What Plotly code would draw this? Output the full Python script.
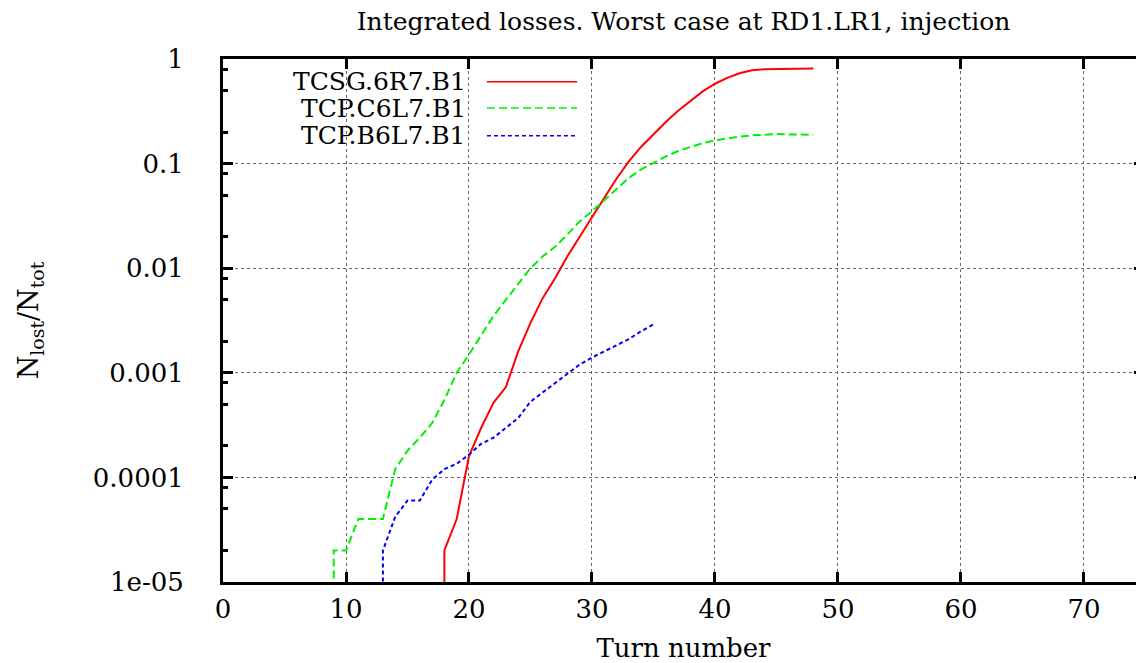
import plotly.graph_objects as go

# ---------------- data ----------------
series_names = ["TCSG.6R7.B1", "TCP.C6L7.B1", "TCP.B6L7.B1"]

# first entry of each series is below the axis floor (curve rises from the bottom)
red_turns = [18, 18, 19, 20, 21, 22, 23, 24, 25, 26, 27, 28, 29, 30, 31, 32, 33,
             34, 35, 36, 37, 38, 39, 40, 41, 42, 43, 44, 45, 46, 47, 48]
red_values = [1e-6, 2e-5, 4e-5, 1.6e-4, 3.0e-4, 5.2e-4, 7.3e-4, 1.6e-3, 3.0e-3,
              5.2e-3, 8.0e-3, 0.013, 0.020, 0.031, 0.047, 0.072, 0.105, 0.145,
              0.19, 0.25, 0.32, 0.40, 0.49, 0.58, 0.66, 0.73, 0.78, 0.80, 0.805,
              0.81, 0.81, 0.81]

green_turns = [9, 9, 10, 11, 12, 13, 14, 15, 16, 17, 18, 19, 20, 21, 22, 23, 24,
               25, 26, 27, 28, 29, 30, 31, 32, 33, 34, 35, 36, 37, 38, 39, 40,
               41, 42, 43, 44, 45, 46, 47, 48]
green_values = [1e-6, 2e-5, 2e-5, 4e-5, 4e-5, 4e-5, 1.2e-4, 1.8e-4, 2.4e-4,
                3.3e-4, 5.5e-4, 1.0e-3, 1.5e-3, 2.3e-3, 3.5e-3, 5.0e-3, 7.0e-3,
                0.0100, 0.0130, 0.0160, 0.0210, 0.0280, 0.0350, 0.045, 0.058,
                0.073, 0.088, 0.102, 0.117, 0.132, 0.145, 0.157, 0.167, 0.175,
                0.181, 0.186, 0.190, 0.192, 0.190, 0.189, 0.189]

blue_turns = [13, 13, 14, 15, 16, 17, 18, 19, 20, 21, 22, 23, 24, 25, 26, 27,
              28, 29, 30, 31, 32, 33, 34, 35]
blue_values = [1e-6, 2e-5, 4.2e-5, 6e-5, 6e-5, 9.5e-5, 1.2e-4, 1.35e-4, 1.65e-4,
               2.1e-4, 2.4e-4, 3.0e-4, 3.7e-4, 5.3e-4, 6.5e-4, 8.0e-4, 9.8e-4,
               1.2e-3, 1.4e-3, 1.6e-3, 1.85e-3, 2.1e-3, 2.5e-3, 2.9e-3]

x_tick_vals = [0, 10, 20, 30, 40, 50, 60, 70]
y_tick_vals = [1e-5, 1e-4, 1e-3, 1e-2, 1e-1, 1]
y_tick_text = ["1e-05", "0.0001", "0.001", "0.01", "0.1", "1"]
y_minor_vals = [m * 10.0 ** e for e in range(-5, 0) for m in (2, 5, 8)]

title_text = "Integrated losses. Worst case at RD1.LR1, injection"
x_title = "Turn number"
y_title = "N<sub>lost</sub>/N<sub>tot</sub>"

# ---------------- styles ----------------
FONT = "DejaVu Serif"
styles = [
    dict(color="#ff0000", width=2, dash="solid"),
    dict(color="#00f000", width=2, dash="8px,4px"),
    dict(color="#0000ff", width=2, dash="4px,3px"),
]

fig = go.Figure()
for name, xs, ys, st in zip(series_names,
                            [red_turns, green_turns, blue_turns],
                            [red_values, green_values, blue_values],
                            styles):
    fig.add_trace(go.Scatter(x=xs, y=ys, mode="lines", name=name,
                             line=st, showlegend=False))

# ---- gnuplot-like key: text right-aligned, sample to the right ----
key_text_right = 0.2655
key_sample = (0.2866, 0.3844)
key_rows = [0.9566, 0.9063, 0.8534]
shapes = [dict(type="rect", xref="paper", yref="paper", x0=0, x1=0.409,
               y0=0.824, y1=1, fillcolor="white", line=dict(width=0),
               layer="between")]
annotations = []
for name, st, yy in zip(series_names, styles, key_rows):
    annotations.append(dict(text=name, xref="paper", yref="paper",
                            x=key_text_right, y=yy, xanchor="right",
                            yanchor="middle", showarrow=False,
                            font=dict(family=FONT, size=25, color="black")))
    shapes.append(dict(type="line", xref="paper", yref="paper",
                       x0=key_sample[0], x1=key_sample[1], y0=yy, y1=yy,
                       line=dict(color=st["color"], width=1.5, dash=st["dash"]),
                       layer="above"))

axis_common = dict(
    showline=True, linecolor="black", linewidth=3, mirror="ticks",
    ticks="inside", ticklen=10, tickwidth=3, tickcolor="black",
    showgrid=True, gridcolor="#666666", gridwidth=1, griddash="dot",
    zeroline=False, tickfont=dict(family=FONT, size=26, color="black"),
)

# page body has an 8px margin: figure is sized/offset to compensate
fig.update_layout(
    width=1136, height=655,
    margin=dict(l=215, r=0, t=51, b=81),
    paper_bgcolor="white", plot_bgcolor="white",
    title=dict(text=title_text, x=0.5, xref="paper", xanchor="center",
               y=1 - 13 / 655, yref="container", yanchor="middle",
               font=dict(family=FONT, size=25, color="black")),
    shapes=shapes, annotations=annotations,
    xaxis=dict(range=[0, 74.88], tickvals=x_tick_vals,
               ticklabelstandoff=2,
               title=dict(text=x_title, standoff=21,
                          font=dict(family=FONT, size=26, color="black")),
               automargin=False, **axis_common),
    yaxis=dict(type="log", range=[-5, 0], tickvals=y_tick_vals,
               ticktext=y_tick_text, ticklabelstandoff=31,
               minor=dict(tickvals=y_minor_vals, ticks="inside", ticklen=5,
                          tickwidth=3, tickcolor="black", showgrid=False),
               title=dict(text=y_title, standoff=47,
                          font=dict(family=FONT, size=27, color="black")),
               automargin=False, **axis_common),
)

fig.write_html("out.html")
